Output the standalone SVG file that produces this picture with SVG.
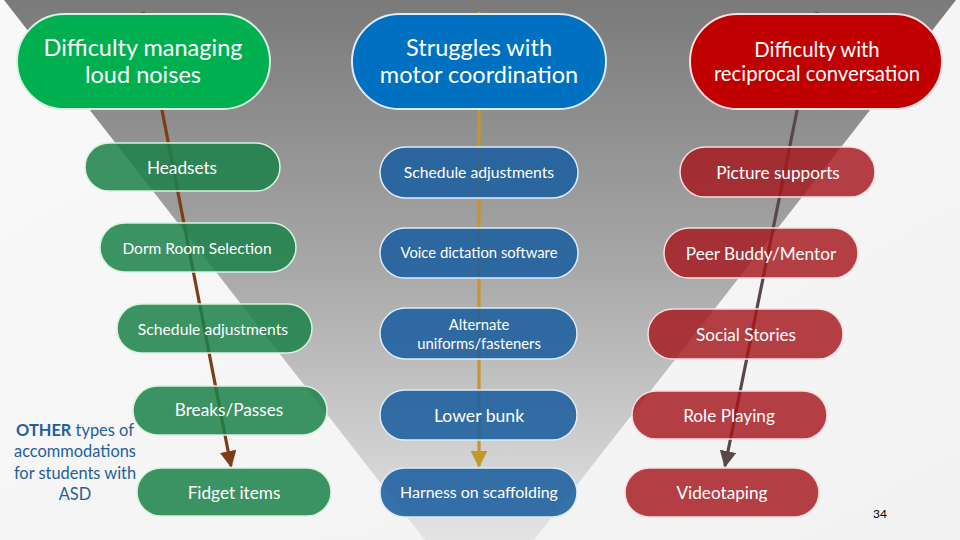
<svg xmlns="http://www.w3.org/2000/svg" width="960" height="540" viewBox="0 0 960 540">
<defs>
<linearGradient id="bg" x1="0" y1="0" x2="1" y2="1">
<stop offset="0" stop-color="#f9f9f9"/><stop offset="1" stop-color="#f2f2f2"/>
</linearGradient>
<linearGradient id="funnel" x1="0" y1="0" x2="0" y2="1">
<stop offset="0" stop-color="#7a7a7a"/><stop offset="0.5" stop-color="#a8a8a8"/><stop offset="1" stop-color="#e4e4e4"/>
</linearGradient>
<marker id="ah-brown" viewBox="0 0 10 10" refX="9" refY="5" markerWidth="5.2" markerHeight="5.2" orient="auto" markerUnits="strokeWidth"><path d="M0,0 L10,5 L0,10 z" fill="#7d3d17"/></marker>
<marker id="ah-gold" viewBox="0 0 10 10" refX="9" refY="5" markerWidth="5.2" markerHeight="5.2" orient="auto" markerUnits="strokeWidth"><path d="M0,0 L10,5 L0,10 z" fill="#c4962e"/></marker>
<marker id="ah-gray" viewBox="0 0 10 10" refX="9" refY="5" markerWidth="5.2" markerHeight="5.2" orient="auto" markerUnits="strokeWidth"><path d="M0,0 L10,5 L0,10 z" fill="#574a46"/></marker>
<style>
.t{font-family:Lato,"Open Sans","Liberation Sans",sans-serif;font-weight:400;fill:#ffffff;text-anchor:middle}
.big{font-size:23.5px}
.sm{font-size:15.7px}
.md{font-size:17.2px}
.gtop{fill:#00b050;stroke:#d8f2e0;stroke-width:2}
.btop{fill:#0070c0;stroke:#dcecf8;stroke-width:2}
.rtop{fill:#c00000;stroke:#f6dede;stroke-width:2}
.gsub{fill:#1a8048;fill-opacity:0.85;stroke:#d8f2e0;stroke-width:1.5}
.bsub{fill:#1d5f9e;fill-opacity:0.88;stroke:#dcecf8;stroke-width:1.5}
.rsub{fill:#a5161c;fill-opacity:0.82;stroke:#f6dede;stroke-width:1.5}
.note{font-family:Lato,"Open Sans","Liberation Sans",sans-serif;font-size:16.4px;fill:#1f5f9a;text-anchor:middle}
</style>
</defs>
<rect x="0" y="0" width="960" height="540" fill="url(#bg)"/>
<polygon points="4,0 956,0 534,540 425,540" fill="url(#funnel)"/>

<g id="connectors">
<line x1="143" y1="12" x2="231" y2="466" stroke="#7d3d17" stroke-width="3.2" marker-end="url(#ah-brown)"/>
<line x1="479" y1="12" x2="479" y2="466" stroke="#c4962e" stroke-width="3.2" marker-end="url(#ah-gold)"/>
<line x1="817" y1="12" x2="725" y2="466" stroke="#574a46" stroke-width="3.2" marker-end="url(#ah-gray)"/>
</g>

<g id="n-loud">
<rect class="gtop" x="17" y="14" width="253" height="95" rx="47.5"/>
<text class="t big" x="143" y="56">Difficulty managing</text>
<text class="t big" x="143" y="83">loud noises</text>
</g>
<g id="n-motor">
<rect class="btop" x="352" y="14" width="254" height="95" rx="47.5"/>
<text class="t big" x="479" y="56">Struggles with</text>
<text class="t big" x="479" y="83">motor coordination</text>
</g>
<g id="n-conv">
<rect class="rtop" x="690" y="14" width="252" height="95" rx="47.5"/>
<text class="t" style="font-size:20.3px" x="817" y="57">Difficulty with</text>
<text class="t" style="font-size:20.3px" x="817" y="81">reciprocal conversation</text>
</g>

<g id="g1"><rect class="gsub" x="85" y="143" width="195" height="48" rx="24"/><text class="t md" x="182" y="174">Headsets</text></g>
<g id="g2"><rect class="gsub" x="100" y="223" width="196" height="49" rx="24.5"/><text class="t" style="font-size:15.5px" x="197" y="254">Dorm Room Selection</text></g>
<g id="g3"><rect class="gsub" x="117" y="304" width="195" height="49" rx="24.5"/><text class="t sm" x="213" y="335">Schedule adjustments</text></g>
<g id="g4"><rect class="gsub" x="133" y="386" width="194" height="49" rx="24.5"/><text class="t md" x="229" y="416">Breaks/Passes</text></g>
<g id="g5"><rect class="gsub" x="137" y="468" width="194" height="48" rx="24"/><text class="t md" x="234" y="499">Fidget items</text></g>

<g id="b1"><rect class="bsub" x="380" y="147" width="198" height="51" rx="25.5"/><text class="t sm" x="479" y="178">Schedule adjustments</text></g>
<g id="b2"><rect class="bsub" x="380" y="228" width="198" height="50" rx="25"/><text class="t" style="font-size:14.8px" x="479" y="258">Voice dictation software</text></g>
<g id="b3"><rect class="bsub" x="380" y="308" width="197" height="51" rx="25.5"/><text class="t" style="font-size:14.8px" x="479" y="330">Alternate</text><text class="t" style="font-size:14.8px" x="479" y="349">uniforms/fasteners</text></g>
<g id="b4"><rect class="bsub" x="380" y="390" width="197" height="50" rx="25"/><text class="t" style="font-size:17.6px" x="479" y="422">Lower bunk</text></g>
<g id="b5"><rect class="bsub" x="380" y="468" width="197" height="49" rx="24.5"/><text class="t" style="font-size:15.9px" x="479" y="498">Harness on scaffolding</text></g>

<g id="r1"><rect class="rsub" x="680" y="147" width="195" height="50" rx="25"/><text class="t md" x="778" y="179">Picture supports</text></g>
<g id="r2"><rect class="rsub" x="664" y="228" width="194" height="50" rx="25"/><text class="t md" x="761" y="260">Peer Buddy/Mentor</text></g>
<g id="r3"><rect class="rsub" x="648" y="309" width="195" height="50" rx="25"/><text class="t md" x="746" y="341">Social Stories</text></g>
<g id="r4"><rect class="rsub" x="632" y="391" width="195" height="48" rx="24"/><text class="t md" x="729" y="422">Role Playing</text></g>
<g id="r5"><rect class="rsub" x="625" y="468" width="194" height="49" rx="24.5"/><text class="t md" x="722" y="499">Videotaping</text></g>

<g id="note">
<text class="note" x="75" y="436"><tspan font-weight="bold">OTHER</tspan> types of</text>
<text class="note" x="75" y="457">accommodations</text>
<text class="note" x="75" y="479">for students with</text>
<text class="note" x="75" y="500">ASD</text>
</g>
<text x="880" y="518" font-family="Lato,'Liberation Sans',sans-serif" font-size="12" fill="#000000" text-anchor="middle">34</text>
</svg>
